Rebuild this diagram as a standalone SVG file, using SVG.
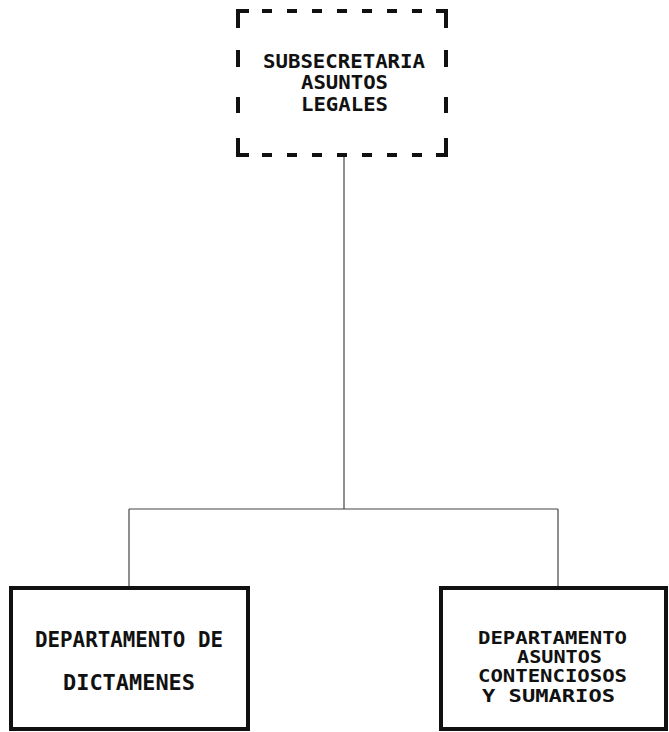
<svg xmlns="http://www.w3.org/2000/svg" width="669" height="732" viewBox="0 0 669 732">
<style>
.t{font-family:"DejaVu Sans Mono","Liberation Mono",monospace;font-size:22px;font-weight:bold;fill:#111;}
.m{font-size:20px;}
.s{font-size:18px;}
.box{fill:#fff;stroke:#111;stroke-width:4;}
.dash{fill:none;stroke:#111;stroke-width:4;}
.conn{fill:none;stroke:#444;stroke-width:1.2;}
</style>
<rect width="669" height="732" fill="#fff"/>
<g id="connectors">
<path class="conn" d="M344,157 V509 M129,509 H558 M129,509 V586 M558,509 V586"/>
</g>
<g id="subsecretaria">
<path class="dash" d="M238,28 V11 H249 M446,28 V11 H436 M238,138 V155 H249 M446,138 V155 H436"/>
<path class="dash" d="M262,11 H272 M287,11 H297 M312,11 H322 M337,11 H347 M362,11 H372 M387,11 H397 M412,11 H422 M262,155 H272 M287,155 H297 M312,155 H322 M337,155 H347 M362,155 H372 M387,155 H397 M412,155 H422 M238,50 V67 M238,97 V113 M446,50 V67 M446,97 V113"/>
<text class="t m" x="263" y="68" textLength="162" lengthAdjust="spacingAndGlyphs">SUBSECRETARIA</text>
<text class="t m" x="301" y="89" textLength="87" lengthAdjust="spacingAndGlyphs">ASUNTOS</text>
<text class="t m" x="301" y="111" textLength="87" lengthAdjust="spacingAndGlyphs">LEGALES</text>
</g>
<g id="dictamenes">
<rect class="box" x="11" y="588" width="237" height="141"/>
<text class="t" x="35" y="647" textLength="188" lengthAdjust="spacingAndGlyphs">DEPARTAMENTO DE</text>
<text class="t" x="63" y="690" textLength="132" lengthAdjust="spacingAndGlyphs">DICTAMENES</text>
</g>
<g id="contenciosos">
<rect class="box" x="441" y="588" width="225" height="141"/>
<text class="t s" x="478" y="644" textLength="149" lengthAdjust="spacingAndGlyphs">DEPARTAMENTO</text>
<text class="t s" x="517" y="663" textLength="85" lengthAdjust="spacingAndGlyphs">ASUNTOS</text>
<text class="t s" x="478" y="682" textLength="149" lengthAdjust="spacingAndGlyphs">CONTENCIOSOS</text>
<text class="t s" x="482" y="702" textLength="133" lengthAdjust="spacingAndGlyphs">Y SUMARIOS</text>
</g>
</svg>
